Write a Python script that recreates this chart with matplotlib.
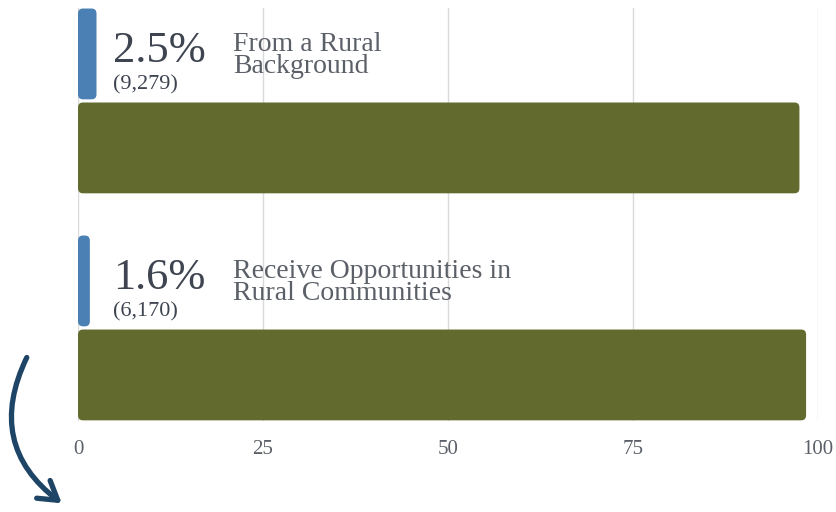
import matplotlib
matplotlib.use("Agg")

import matplotlib.pyplot as plt
from matplotlib.patches import FancyBboxPatch, FancyArrowPatch

# data
categories = ["From a Rural\nBackground", "Receive Opportunities in\nRural Communities"]
rural_pct = [2.5, 1.6]
other_pct = [97.5, 98.4]
counts = ["(9,279)", "(6,170)"]
ticks = [0, 25, 50, 75, 100]

BLUE = "#4a80b3"
OLIVE = "#636a2e"
DARK = "#3e4450"
GREY = "#5b6068"

plt.rcParams["font.family"] = ["Liberation Serif", "DejaVu Serif"]

fig = plt.figure(figsize=(8.37, 5.12), dpi=100)
ax = fig.add_axes([0.0932, 0.1777, 0.884, 0.807])

ax.set_xlim(0, 100)
ax.set_ylim(1.41, -0.41)

pos = list(range(len(categories)))
off = 0.207
h = 0.40
bars_a = ax.barh([p - off for p in pos], rural_pct, height=h, color=BLUE, zorder=2)
bars_b = ax.barh([p + off for p in pos], other_pct, height=h, color=OLIVE, zorder=2)

# swap plain rectangles for slightly rounded ones
p0 = ax.transData.transform((0, 0))
p1 = ax.transData.transform((1, 1))
px_x = abs(p1[0] - p0[0])
px_y = abs(p1[1] - p0[1])
r = 5 / px_x
for bar in list(bars_a) + list(bars_b):
    x, y = bar.get_x(), bar.get_y()
    w, hh = bar.get_width(), bar.get_height()
    bar.set_visible(False)
    ax.add_patch(FancyBboxPatch((x, y), w, hh,
                                boxstyle=f"round,pad=0,rounding_size={r}",
                                mutation_aspect=px_x / px_y,
                                fc=bar.get_facecolor(), ec="none", zorder=2))

for i, cat in enumerate(categories):
    yc = pos[i] - off
    ax.annotate(f"{rural_pct[i]}%", (0, yc), xytext=(25, -6), textcoords="offset points",
                fontsize=32, color=DARK, va="baseline", ha="left")
    ax.annotate(counts[i], (0, yc), xytext=(25, -22), textcoords="offset points",
                fontsize=16, color=DARK, va="center", ha="left")
    ax.annotate(cat, (0, yc), xytext=(111.5, -1), textcoords="offset points",
                fontsize=20, color=GREY, va="center", ha="left", linespacing=0.85)

ax.set_xticks(ticks)
ax.set_yticks([])
ax.tick_params(axis="x", length=0, pad=14, labelsize=15, labelcolor=GREY)
ax.grid(axis="x", color="#d9d9d9", linewidth=1, zorder=0)
ax.set_axisbelow(True)
for s in ax.spines.values():
    s.set_visible(False)

arrow = FancyArrowPatch((28 / 837, 1 - 355 / 512), (64 / 837, 1 - 505 / 512),
                        transform=fig.transFigure, connectionstyle="arc3,rad=0.42",
                        arrowstyle="->,head_length=13,head_width=8",
                        color="#1e4466", linewidth=3.8, capstyle="round",
                        joinstyle="round")
fig.patches.append(arrow)

fig.savefig("out.png", dpi=100)
